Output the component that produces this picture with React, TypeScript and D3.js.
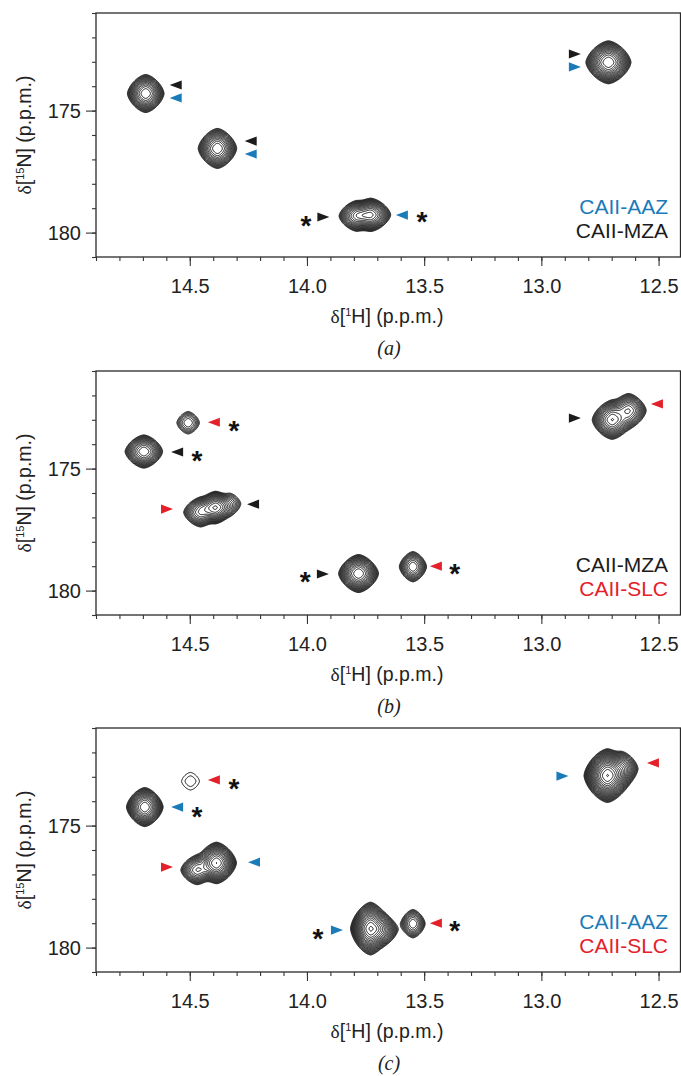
import React, { useEffect, useRef } from 'react';
import * as d3 from 'd3';

// axis ranges (p.p.m.), H axis runs right-to-left
const hDomain = [14.9, 12.4];
const nDomain = [171, 181];
const hMajor = [14.5, 14.0, 13.5, 13.0, 12.5];
const nMajor = [175, 180];
const panelTags = ['(a)', '(b)', '(c)'];

// peaks: centre (h, n), half width of outer contour (wh, wn in p.p.m.), contour levels lv
const peaksA = [
  { h: 14.69, n: 174.28, wh: 0.078, wn: 0.78, lv: 15 },
  { h: 14.384, n: 176.53, wh: 0.082, wn: 0.82, lv: 15 },
  { h: 13.73, n: 179.25, wh: 0.085, wn: 0.68, lv: 15 },
  { h: 13.79, n: 179.3, wh: 0.075, wn: 0.62, lv: 13 },
  { h: 12.716, n: 173.0, wh: 0.096, wn: 0.88, lv: 17 },
];
const peaksB = [
  { h: 14.509, n: 173.1, wh: 0.048, wn: 0.46, lv: 7 },
  { h: 14.698, n: 174.28, wh: 0.08, wn: 0.68, lv: 14 },
  { h: 14.392, n: 176.57, wh: 0.078, wn: 0.66, lv: 15 },
  { h: 14.456, n: 176.77, wh: 0.072, wn: 0.6, lv: 12 },
  { h: 14.33, n: 176.42, wh: 0.045, wn: 0.42, lv: 6 },
  { h: 13.782, n: 179.28, wh: 0.085, wn: 0.78, lv: 16 },
  { h: 13.55, n: 179.0, wh: 0.058, wn: 0.62, lv: 11 },
  { h: 12.7, n: 172.98, wh: 0.085, wn: 0.8, lv: 15 },
  { h: 12.63, n: 172.6, wh: 0.075, wn: 0.7, lv: 13 },
];
const peaksC = [
  { h: 14.499, n: 173.16, wh: 0.038, wn: 0.36, lv: 1.6 },
  { h: 14.694, n: 174.22, wh: 0.078, wn: 0.8, lv: 16 },
  { h: 14.388, n: 176.51, wh: 0.085, wn: 0.85, lv: 17 },
  { h: 14.47, n: 176.8, wh: 0.07, wn: 0.6, lv: 12 },
  { h: 13.731, n: 179.2, wh: 0.085, wn: 1.08, lv: 19 },
  { h: 13.68, n: 179.25, wh: 0.065, wn: 0.62, lv: 12 },
  { h: 13.55, n: 179.0, wh: 0.052, wn: 0.58, lv: 10 },
  { h: 12.72, n: 172.93, wh: 0.1, wn: 1.1, lv: 21 },
  { h: 12.66, n: 172.65, wh: 0.07, wn: 0.7, lv: 12 },
];

// arrow heads: position, pointing direction, colour key
const arrowsA = [
  { h: 14.56, n: 173.95, dir: 'l', c: 'k' },
  { h: 14.56, n: 174.48, dir: 'l', c: 'b' },
  { h: 14.24, n: 176.25, dir: 'l', c: 'k' },
  { h: 14.24, n: 176.78, dir: 'l', c: 'b' },
  { h: 13.93, n: 179.36, dir: 'r', c: 'k' },
  { h: 13.595, n: 179.28, dir: 'l', c: 'b' },
  { h: 12.857, n: 172.68, dir: 'r', c: 'k' },
  { h: 12.857, n: 173.21, dir: 'r', c: 'b' },
];
const arrowsB = [
  { h: 14.397, n: 173.1, dir: 'l', c: 'r' },
  { h: 14.554, n: 174.32, dir: 'l', c: 'k' },
  { h: 14.597, n: 176.66, dir: 'r', c: 'r' },
  { h: 14.23, n: 176.46, dir: 'l', c: 'k' },
  { h: 13.932, n: 179.32, dir: 'r', c: 'k' },
  { h: 13.45, n: 179.0, dir: 'l', c: 'r' },
  { h: 12.857, n: 172.93, dir: 'r', c: 'k' },
  { h: 12.507, n: 172.35, dir: 'l', c: 'r' },
];
const arrowsC = [
  { h: 14.397, n: 173.13, dir: 'l', c: 'r' },
  { h: 14.554, n: 174.24, dir: 'l', c: 'b' },
  { h: 14.597, n: 176.7, dir: 'r', c: 'r' },
  { h: 14.226, n: 176.5, dir: 'l', c: 'b' },
  { h: 13.872, n: 179.28, dir: 'r', c: 'b' },
  { h: 13.45, n: 179.0, dir: 'l', c: 'r' },
  { h: 12.91, n: 172.97, dir: 'r', c: 'b' },
  { h: 12.524, n: 172.43, dir: 'l', c: 'r' },
];

const starsA = [
  { h: 14.004, n: 179.4 },
  { h: 13.509, n: 179.24 },
];
const starsB = [
  { h: 14.311, n: 173.14 },
  { h: 14.469, n: 174.36 },
  { h: 14.008, n: 179.32 },
  { h: 13.37, n: 179.0 },
];
const starsC = [
  { h: 14.311, n: 173.19 },
  { h: 14.469, n: 174.32 },
  { h: 13.953, n: 179.32 },
  { h: 13.37, n: 179.0 },
];

const legendA = [
  { text: 'CAII-AAZ', c: 'b' },
  { text: 'CAII-MZA', c: 'k' },
];
const legendB = [
  { text: 'CAII-MZA', c: 'k' },
  { text: 'CAII-SLC', c: 'r' },
];
const legendC = [
  { text: 'CAII-AAZ', c: 'b' },
  { text: 'CAII-SLC', c: 'r' },
];

const colors = { k: '#1b1b1b', b: '#1a7bb9', r: '#e4202a' };

const panels = [
  { peaks: peaksA, arrows: arrowsA, stars: starsA, legend: legendA },
  { peaks: peaksB, arrows: arrowsB, stars: starsB, legend: legendB },
  { peaks: peaksC, arrows: arrowsC, stars: starsC, legend: legendC },
];

const W = 681;
const H = 1076;
const tops = [13, 371, 728];
const plotH = 244;
const left = 96;
const right = 682;
const sans = "'Liberation Sans', Arial, Helvetica, sans-serif";
const serif = "'Liberation Serif', 'Times New Roman', serif";

const App = () => {
  const svgRef = useRef(null);

  useEffect(() => {
    const svg = d3.select(svgRef.current);
    svg.selectAll('*').remove();

    const x = d3.scaleLinear().domain(hDomain).range([left, right]);
    const step = 1.25;
    const thresholds = d3.range(0, 28).map((k) => Math.pow(step, k));
    const shapeP = 1.55;

    panels.forEach((panel, i) => {
      const top = tops[i];
      const y = d3.scaleLinear().domain(nDomain).range([top, top + plotH]);
      const g = svg.append('g');

      // contour grid for this panel
      const gw = Math.round(right - left);
      const gh = plotH;
      const values = new Float64Array(gw * gh);
      panel.peaks.forEach((p) => {
        const amp = Math.pow(step, p.lv);
        const d0 = Math.sqrt(2 * Math.log(amp));
        const cx = x(p.h) - left;
        const cy = y(p.n) - top;
        const sx = Math.abs(x(p.h + p.wh) - x(p.h)) / d0;
        const sy = Math.abs(y(p.n + p.wn) - y(p.n)) / d0;
        const rx = sx * (d0 + 2.5);
        const ry = sy * (d0 + 2.5);
        const i0 = Math.max(0, Math.floor(cx - rx));
        const i1 = Math.min(gw - 1, Math.ceil(cx + rx));
        const j0 = Math.max(0, Math.floor(cy - ry));
        const j1 = Math.min(gh - 1, Math.ceil(cy + ry));
        for (let j = j0; j <= j1; j++) {
          const v = Math.abs((j - cy) / sy);
          const vp = Math.pow(v, shapeP);
          for (let k = i0; k <= i1; k++) {
            const u = Math.abs((k - cx) / sx);
            const d = Math.pow(Math.pow(u, shapeP) + vp, 1 / shapeP);
            values[j * gw + k] += amp * Math.exp(-(d * d) / 2);
          }
        }
      });

      const contours = d3.contours().size([gw, gh]).thresholds(thresholds)(Array.from(values));
      const path = d3.geoPath();
      g.append('g')
        .attr('transform', `translate(${left},${top})`)
        .selectAll('path')
        .data(contours)
        .join('path')
        .attr('d', (c) => path(c))
        .attr('fill', 'none')
        .attr('stroke', '#0a0a0a')
        .attr('stroke-width', 0.95);

      // frame
      g.append('rect')
        .attr('x', left)
        .attr('y', top)
        .attr('width', right - left - 1.5)
        .attr('height', plotH)
        .attr('fill', 'none')
        .attr('stroke', '#2a2a2a')
        .attr('stroke-width', 1.3);

      // x axis: minor then major ticks
      g.append('g')
        .attr('transform', `translate(0,${top + plotH})`)
        .call(d3.axisBottom(x).ticks(25).tickSize(4).tickFormat(() => ''))
        .call((a) => a.select('.domain').remove());
      g.append('g')
        .attr('transform', `translate(0,${top + plotH})`)
        .call(d3.axisBottom(x).tickValues(hMajor).tickSize(9).tickPadding(13).tickFormat(d3.format('.1f')))
        .call((a) => a.select('.domain').remove())
        .call((a) => a.selectAll('text').attr('font-size', 20).attr('font-family', sans).attr('fill', '#222'));

      // y axis
      g.append('g')
        .attr('transform', `translate(${left},0)`)
        .call(d3.axisLeft(y).ticks(10).tickSize(4).tickFormat(() => ''))
        .call((a) => a.select('.domain').remove());
      g.append('g')
        .attr('transform', `translate(${left},0)`)
        .call(d3.axisLeft(y).tickValues(nMajor).tickSize(10).tickPadding(5).tickFormat(d3.format('d')))
        .call((a) => a.select('.domain').remove())
        .call((a) => a.selectAll('text').attr('font-size', 20).attr('font-family', sans).attr('fill', '#222'));
      g.selectAll('.tick line').attr('stroke', '#333').attr('stroke-width', 1.1);

      // arrow heads
      g.selectAll('.arrow')
        .data(panel.arrows)
        .join('path')
        .attr('class', 'arrow')
        .attr('transform', (d) => `translate(${x(d.h)},${y(d.n)}) scale(${d.dir === 'l' ? 1 : -1},1)`)
        .attr('d', 'M-6,0L6,-4.6L6,4.6Z')
        .attr('fill', (d) => colors[d.c]);

      // asterisks
      g.selectAll('.star')
        .data(panel.stars)
        .join('text')
        .attr('class', 'star')
        .attr('x', (d) => x(d.h))
        .attr('y', (d) => y(d.n) + 17)
        .attr('text-anchor', 'middle')
        .attr('font-family', sans)
        .attr('font-weight', 'bold')
        .attr('font-size', 28)
        .attr('fill', '#111')
        .text('*');

      // legend
      g.selectAll('.legend')
        .data(panel.legend)
        .join('text')
        .attr('class', 'legend')
        .attr('x', 668)
        .attr('y', (d, k) => top + 201 + k * 24)
        .attr('text-anchor', 'end')
        .attr('font-family', sans)
        .attr('font-size', 21)
        .attr('fill', (d) => colors[d.c])
        .text((d) => d.text);

      // axis titles
      const xt = g.append('text')
        .attr('x', (left + right) / 2 - 2)
        .attr('y', top + plotH + 66)
        .attr('text-anchor', 'middle')
        .attr('font-family', sans)
        .attr('font-size', 19.5)
        .attr('fill', '#222');
      xt.append('tspan').attr('font-family', serif).text('δ');
      xt.append('tspan').text('[');
      xt.append('tspan').attr('font-size', 11).attr('dy', -7).text('1');
      xt.append('tspan').attr('dy', 7).text('H] (p.p.m.)');

      const yt = g.append('text')
        .attr('transform', `translate(31,${top + plotH / 2}) rotate(-90)`)
        .attr('text-anchor', 'middle')
        .attr('font-family', sans)
        .attr('font-size', 19.5)
        .attr('fill', '#222');
      yt.append('tspan').attr('font-family', serif).text('δ');
      yt.append('tspan').text('[');
      yt.append('tspan').attr('font-size', 11).attr('dy', -7).text('15');
      yt.append('tspan').attr('dy', 7).text('N] (p.p.m.)');

      g.append('text')
        .attr('x', 389)
        .attr('y', top + plotH + 98)
        .attr('text-anchor', 'middle')
        .attr('font-family', serif)
        .attr('font-style', 'italic')
        .attr('font-size', 20)
        .attr('fill', '#222')
        .text(panelTags[i]);
    });
  }, []);

  return (
    <svg
      ref={svgRef}
      width={W}
      height={H}
      style={{ position: 'absolute', left: 0, top: 0, background: '#fff' }}
    />
  );
};

export default App;
